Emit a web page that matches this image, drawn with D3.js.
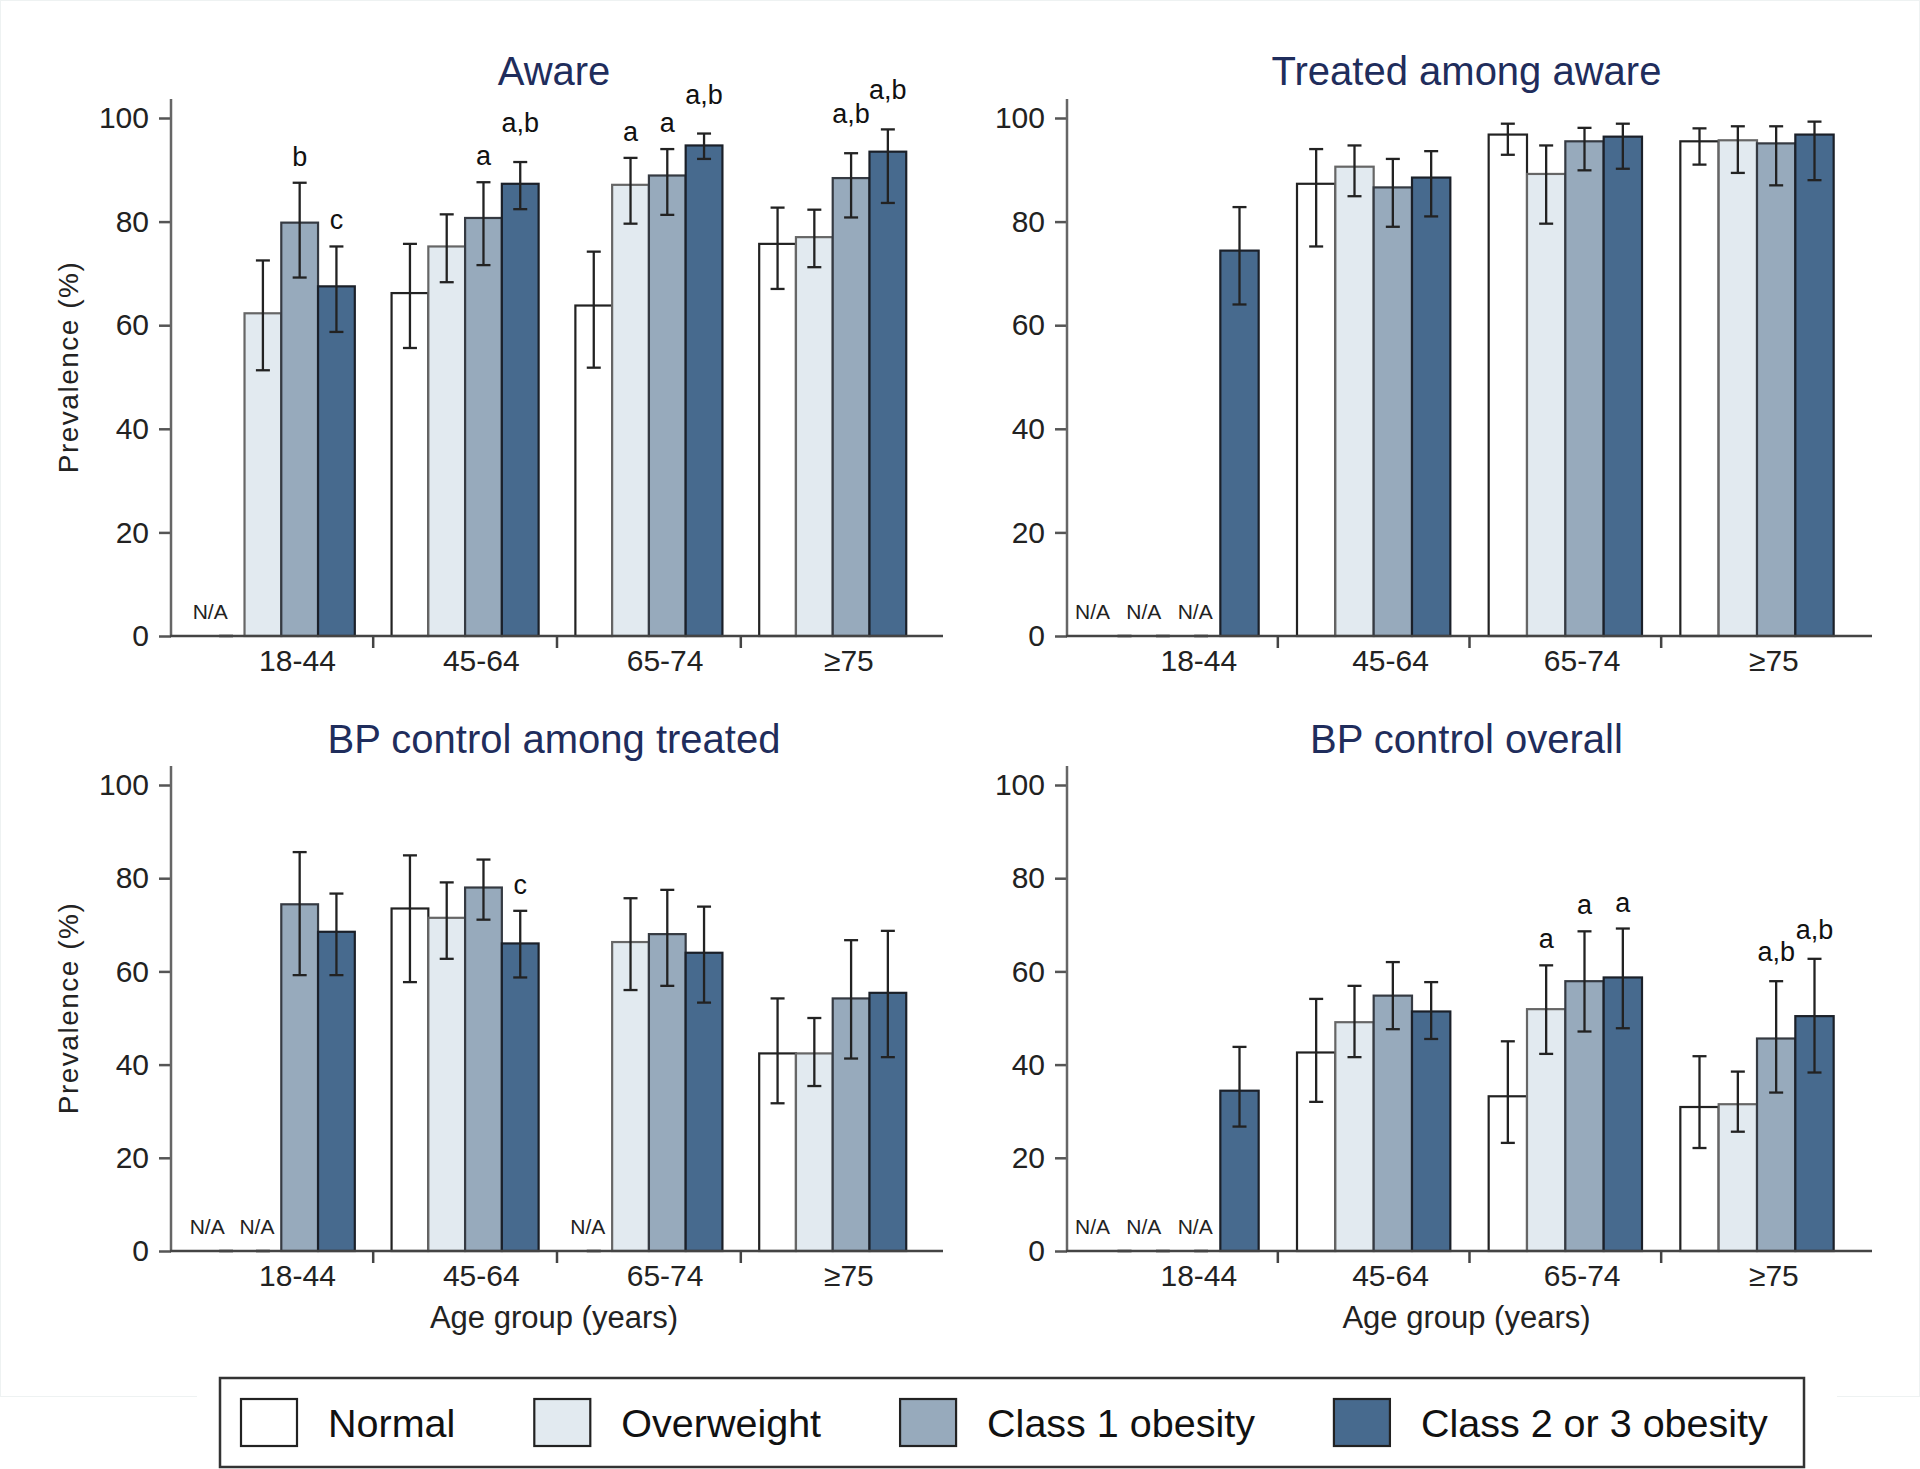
<!DOCTYPE html>
<html>
<head>
<meta charset="utf-8">
<script src="https://cdn.jsdelivr.net/npm/d3@7"></script>
<style>
  body { margin: 0; background: #fff; }
  svg { display: block; font-family: "Liberation Sans", Arial, sans-serif; }
</style>
</head>
<body>
<div id="chart"></div>
<script>
const groups = ["18-44", "45-64", "65-74", "≥75"];
const series = ["Normal", "Overweight", "Class 1 obesity", "Class 2 or 3 obesity"];
const fills = ["#ffffff", "#e2eaf0", "#97aabc", "#476a8e"];
const outlines = ["#222", "#666", "#353a42", "#1b2029"];
const yTicks = [0, 20, 40, 60, 80, 100];

// values per group, in series order; null = N/A
const awareVal = [[null, 62.3, 79.8, 67.5], [66.2, 75.2, 80.7, 87.3], [63.8, 87.1, 88.9, 94.7], [75.7, 77.0, 88.4, 93.5]];
const awareLo  = [[null, 51.3, 69.2, 58.7], [55.6, 68.3, 71.6, 82.4], [51.8, 79.6, 81.3, 92.1], [67.0, 71.2, 80.8, 83.6]];
const awareHi  = [[null, 72.5, 87.5, 75.2], [75.7, 81.4, 87.6, 91.5], [74.2, 92.3, 94.0, 97.0], [82.7, 82.3, 93.2, 97.8]];
const awareSig = [["", "", "b", "c"], ["", "", "a", "a,b"], ["", "a", "a", "a,b"], ["", "", "a,b", "a,b"]];

const treatedVal = [[null, null, null, 74.4], [87.3, 90.6, 86.6, 88.5], [96.8, 89.2, 95.5, 96.4], [95.5, 95.7, 95.1, 96.8]];
const treatedLo  = [[null, null, null, 64.0], [75.2, 84.9, 79.0, 81.0], [92.9, 79.6, 89.9, 90.2], [91.0, 89.4, 87.0, 88.0]];
const treatedHi  = [[null, null, null, 82.8], [94.0, 94.7, 92.1, 93.6], [98.9, 94.7, 98.1, 98.9], [98.0, 98.4, 98.4, 99.3]];
const treatedSig = [["", "", "", ""], ["", "", "", ""], ["", "", "", ""], ["", "", "", ""]];

const ctrlTreatedVal = [[null, null, 74.4, 68.5], [73.5, 71.5, 78.0, 66.0], [null, 66.3, 68.0, 64.0], [42.4, 42.4, 54.2, 55.4]];
const ctrlTreatedLo  = [[null, null, 59.2, 59.2], [57.7, 62.7, 71.1, 58.7], [null, 56.0, 56.9, 53.3], [31.7, 35.4, 41.3, 41.6]];
const ctrlTreatedHi  = [[null, null, 85.6, 76.7], [84.9, 79.1, 84.0, 73.0], [null, 75.7, 77.5, 73.9], [54.2, 50.0, 66.7, 68.7]];
const ctrlTreatedSig = [["", "", "", ""], ["", "", "", "c"], ["", "", "", ""], ["", "", "", ""]];

const ctrlAllVal = [[null, null, null, 34.4], [42.6, 49.1, 54.8, 51.4], [33.2, 51.9, 57.9, 58.7], [30.9, 31.5, 45.6, 50.4]];
const ctrlAllLo  = [[null, null, null, 26.7], [32.0, 41.6, 47.6, 45.5], [23.2, 42.3, 47.1, 47.8], [22.1, 25.6, 34.0, 38.3]];
const ctrlAllHi  = [[null, null, null, 43.8], [54.1, 56.9, 62.0, 57.7], [45.0, 61.3, 68.6, 69.2], [41.8, 38.5, 57.9, 62.7]];
const ctrlAllSig = [["", "", "", ""], ["", "", "", ""], ["", "a", "a", "a"], ["", "", "a,b", "a,b"]];

const width = 1920, height = 1469;

const panels = [
    { title: "Aware", val: awareVal, lo: awareLo, hi: awareHi, sig: awareSig,
      x0: 171, x1: 943, yZero: 636, yFull: 118, titleY: 85, yLabel: true, xLabel: false, abLift: 30 },
    { title: "Treated among aware", val: treatedVal, lo: treatedLo, hi: treatedHi, sig: treatedSig,
      x0: 1067, x1: 1872, yZero: 636, yFull: 118, titleY: 85, yLabel: false, xLabel: false, abLift: 20 },
    { title: "BP control among treated", val: ctrlTreatedVal, lo: ctrlTreatedLo, hi: ctrlTreatedHi, sig: ctrlTreatedSig,
      x0: 171, x1: 943, yZero: 1251, yFull: 785, titleY: 753, yLabel: true, xLabel: true, abLift: 20 },
    { title: "BP control overall", val: ctrlAllVal, lo: ctrlAllLo, hi: ctrlAllHi, sig: ctrlAllSig,
      x0: 1067, x1: 1872, yZero: 1251, yFull: 785, titleY: 753, yLabel: false, xLabel: true, abLift: 20 }
];

const svg = d3.select("#chart")
    .append("svg")
    .attr("width", width)
    .attr("height", height);

svg.append("rect")
    .attr("x", 0.5).attr("y", 0.5)
    .attr("width", width - 1).attr("height", 1396)
    .attr("fill", "#fff")
    .attr("stroke", "#eef2f2");

panels.forEach(p => {
    const g = svg.append("g");

    const x = d3.scaleBand()
        .domain(groups)
        .range([p.x0, p.x1])
        .paddingInner(0.2)
        .paddingOuter(0.2);
    const xs = d3.scaleBand()
        .domain(d3.range(series.length))
        .range([0, x.bandwidth()]);
    const y = d3.scaleLinear()
        .domain([0, 100])
        .range([p.yZero, p.yFull]);

    const rows = [];
    groups.forEach((grp, gi) => {
        series.forEach((s, si) => {
            rows.push({ grp, gi, si, v: p.val[gi][si], lo: p.lo[gi][si], hi: p.hi[gi][si], sig: p.sig[gi][si] });
        });
    });

    // title
    g.append("text")
        .attr("x", (p.x0 + p.x1) / 2 - 3)
        .attr("y", p.titleY)
        .attr("text-anchor", "middle")
        .attr("font-size", 40)
        .attr("fill", "#1f2d5c")
        .text(p.title);

    // bars
    g.selectAll("rect.bar")
        .data(rows.filter(d => d.v !== null))
        .enter()
        .append("rect")
        .attr("class", "bar")
        .attr("x", d => x(d.grp) + xs(d.si))
        .attr("y", d => y(d.v))
        .attr("width", xs.bandwidth())
        .attr("height", d => y(0) - y(d.v))
        .attr("fill", d => fills[d.si])
        .attr("stroke", d => outlines[d.si])
        .attr("stroke-width", 2.2);

    // error bars (N/A ones collapse to a cap at zero)
    const cx = d => x(d.grp) + xs(d.si) + xs.bandwidth() / 2;
    const capW = 7;
    const eb = g.selectAll("g.err")
        .data(rows)
        .enter()
        .append("g")
        .attr("class", "err")
        .attr("stroke", "#222")
        .attr("stroke-width", 2.3);
    eb.append("line")
        .attr("x1", cx).attr("x2", cx)
        .attr("y1", d => y(d.lo === null ? 0 : d.lo))
        .attr("y2", d => y(d.hi === null ? 0 : d.hi));
    eb.append("line")
        .attr("x1", d => cx(d) - capW).attr("x2", d => cx(d) + capW)
        .attr("y1", d => y(d.lo === null ? 0 : d.lo))
        .attr("y2", d => y(d.lo === null ? 0 : d.lo));
    eb.append("line")
        .attr("x1", d => cx(d) - capW).attr("x2", d => cx(d) + capW)
        .attr("y1", d => y(d.hi === null ? 0 : d.hi))
        .attr("y2", d => y(d.hi === null ? 0 : d.hi));

    // N/A labels, nudged left when several sit side by side
    const naRows = rows.filter(d => d.v === null).map(d => {
        let after = 0, before = 0;
        for (let k = d.si + 1; k < series.length && p.val[d.gi][k] === null; k++) after++;
        for (let k = d.si - 1; k >= 0 && p.val[d.gi][k] === null; k--) before++;
        return Object.assign({}, d, { after, lone: after === 0 && before === 0 && d.si === 0 && d.gi === 0 });
    });
    g.selectAll("text.na")
        .data(naRows)
        .enter()
        .append("text")
        .attr("class", "na")
        .attr("x", d => cx(d) - (d.lone ? 16 : 6 + 13 * d.after))
        .attr("y", y(0) - 17)
        .attr("text-anchor", "middle")
        .attr("font-size", 21)
        .attr("fill", "#222")
        .text("N/A");

    // significance letters
    g.selectAll("text.sig")
        .data(rows.filter(d => d.sig))
        .enter()
        .append("text")
        .attr("class", "sig")
        .attr("x", cx)
        .attr("y", d => y(d.hi) - (d.sig.length > 1 ? p.abLift : 17))
        .attr("text-anchor", "middle")
        .attr("font-size", 27)
        .attr("fill", "#111")
        .text(d => d.sig);

    // y axis
    const yAxis = d3.axisLeft(y).tickValues(yTicks).tickSize(12).tickPadding(10);
    const ya = g.append("g")
        .attr("transform", "translate(" + p.x0 + ",0)")
        .call(yAxis);
    ya.select(".domain").remove();
    ya.selectAll(".tick line").attr("stroke", "#555").attr("stroke-width", 2.5);
    ya.selectAll(".tick text").attr("font-size", 30).attr("fill", "#222")
        .attr("font-family", "Liberation Sans, Arial, sans-serif");
    g.append("line")
        .attr("x1", p.x0).attr("x2", p.x0)
        .attr("y1", y(0)).attr("y2", y(100) - 19)
        .attr("stroke", "#666").attr("stroke-width", 2.5);

    // x axis
    g.append("line")
        .attr("x1", p.x0 - 1).attr("x2", p.x1)
        .attr("y1", y(0)).attr("y2", y(0))
        .attr("stroke", "#444").attr("stroke-width", 2.5);
    g.selectAll("line.sep")
        .data(groups.slice(1))
        .enter()
        .append("line")
        .attr("class", "sep")
        .attr("x1", d => x(d) - x.step() * 0.1)
        .attr("x2", d => x(d) - x.step() * 0.1)
        .attr("y1", y(0)).attr("y2", y(0) + 12)
        .attr("stroke", "#444").attr("stroke-width", 2.5);
    g.selectAll("text.grp")
        .data(groups)
        .enter()
        .append("text")
        .attr("class", "grp")
        .attr("x", d => x(d) + x.bandwidth() * 0.61)
        .attr("y", y(0) + 35)
        .attr("text-anchor", "middle")
        .attr("font-size", 30)
        .attr("fill", "#222")
        .text(d => d);

    if (p.yLabel) {
        g.append("text")
            .attr("transform", "translate(78," + ((y(0) + y(100)) / 2 - 10) + ") rotate(-90)")
            .attr("text-anchor", "middle")
            .attr("font-size", 28)
            .attr("letter-spacing", 1.5)
            .attr("fill", "#222")
            .text("Prevalence (%)");
    }
    if (p.xLabel) {
        g.append("text")
            .attr("x", (p.x0 + p.x1) / 2 - 3)
            .attr("y", y(0) + 77)
            .attr("text-anchor", "middle")
            .attr("font-size", 31)
            .attr("fill", "#222")
            .text("Age group (years)");
    }
});

// legend
svg.append("rect")
    .attr("x", 197).attr("y", 1390)
    .attr("width", 1640).attr("height", 79)
    .attr("fill", "#fff");
svg.append("rect")
    .attr("x", 220).attr("y", 1378)
    .attr("width", 1584).attr("height", 89)
    .attr("fill", "#fff")
    .attr("stroke", "#333")
    .attr("stroke-width", 2.5);

let lx = 241;
series.forEach((s, i) => {
    svg.append("rect")
        .attr("x", lx).attr("y", 1399)
        .attr("width", 56).attr("height", 47)
        .attr("fill", fills[i])
        .attr("stroke", "#222")
        .attr("stroke-width", 2.2);
    const t = svg.append("text")
        .attr("x", lx + 87)
        .attr("y", 1437)
        .attr("font-size", 39.5)
        .attr("fill", "#111")
        .text(s);
    lx = lx + 87 + t.node().getComputedTextLength() + 79;
});
</script>
</body>
</html>
